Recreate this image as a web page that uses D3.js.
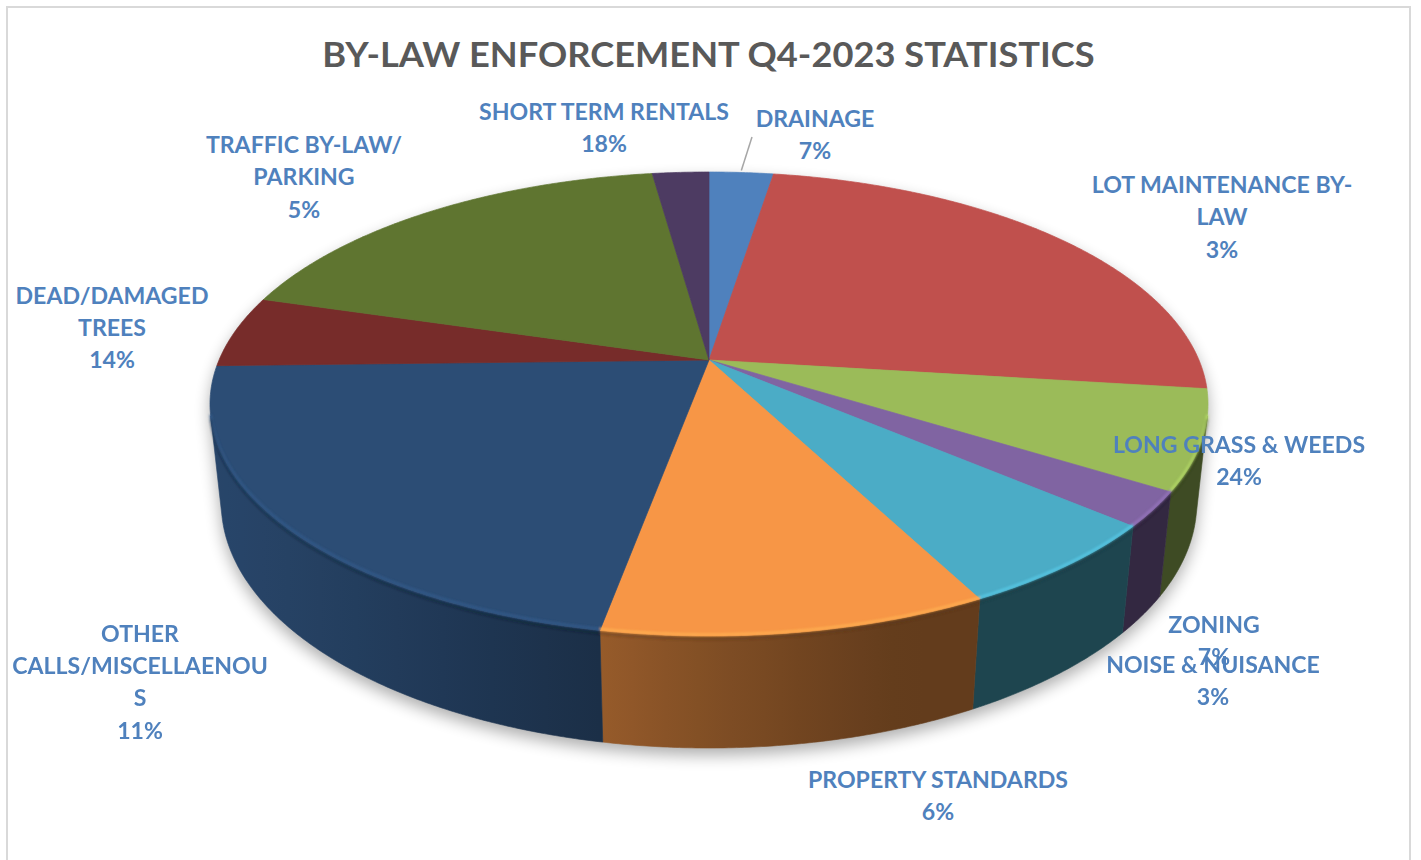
<!DOCTYPE html>
<html>
<head>
<meta charset="utf-8">
<script src="https://cdn.jsdelivr.net/npm/d3@7"></script>
<style>
  html, body { margin: 0; padding: 0; background: #ffffff; }
  svg { display: block; }
</style>
</head>
<body>
<script>
// ---- Data ----------------------------------------------------------------
const categories = [
  "DRAINAGE", "LOT MAINTENANCE BY-LAW", "LONG GRASS & WEEDS", "ZONING",
  "NOISE & NUISANCE", "PROPERTY STANDARDS", "OTHER CALLS/MISCELLAENOUS",
  "DEAD/DAMAGED TREES", "TRAFFIC BY-LAW/PARKING", "SHORT TERM RENTALS"
];
// how each category label wraps inside its data-label box
const labelLines = [
  ["DRAINAGE"],
  ["LOT MAINTENANCE BY-", "LAW"],
  ["LONG GRASS & WEEDS"],
  ["ZONING"],
  ["NOISE & NUISANCE"],
  ["PROPERTY STANDARDS"],
  ["OTHER", "CALLS/MISCELLAENOU", "S"],
  ["DEAD/DAMAGED", "TREES"],
  ["TRAFFIC BY-LAW/", "PARKING"],
  ["SHORT TERM RENTALS"]
];
// share of each slice (percent of the pie)
const shares = [2.5, 24.5, 6.9, 2.4, 6.1, 10.5, 21.7, 5.0, 18.2, 2.2];
// percentage text printed in each data label
const percentText = ["7%", "3%", "24%", "7%", "3%", "6%", "11%", "14%", "5%", "18%"];
const sliceColors = [
  "#4F81BD", "#C0504D", "#9BBB59", "#8064A2", "#4BACC6",
  "#F79646", "#2C4D75", "#772C2A", "#5F7530", "#4D3B62"
];
const chartTitle = "BY-LAW ENFORCEMENT Q4-2023 STATISTICS";

// ---- Layout --------------------------------------------------------------
const W = 1421, H = 860;
// data-label anchors: centre x and first baseline y
const labelAnchors = [
  [815, 126.5], [1222, 193], [1239, 452.5], [1214, 633], [1213, 673],
  [938, 788], [140, 641.5], [112, 303.5], [304, 153], [604, 120]
];
const lineStep = 32.5;
const labelColor = "#4F81BD";
const fontStack = "Lato, 'Open Sans', 'DejaVu Sans', sans-serif";

// perspective camera looking down at the pie
const view = { cx: 709, cy: 360, F: 2298, D: 1, sinP: 0.4565, cosP: 0.8897 };
const R = 0.2132;      // pie radius (world units)
const T = 0.0486;      // pie thickness (world units)

function project(theta, r, y) {
  const X = r * Math.sin(theta), Z = r * Math.cos(theta);
  const depth = view.D - y * view.sinP + Z * view.cosP;
  const up = y * view.cosP + Z * view.sinP;
  return [view.cx + view.F * X / depth, view.cy - view.F * up / depth];
}

// the side wall faces the camera only on this arc
const thetaMin = Math.acos(-R / (view.D * view.cosP));
const thetaMax = 2 * Math.PI - thetaMin;
const deg = Math.PI / 180;

function arcPoints(a0, a1, y) {
  const n = Math.max(2, Math.ceil(Math.abs(a1 - a0) / (0.4 * deg)));
  return d3.range(n + 1).map(i => project(a0 + (a1 - a0) * i / n, R, y));
}

// wall lighting: light comes from the front-left
function wallFactor(theta) {
  const c = Math.max(0, Math.cos(theta - 250 * deg));
  return 0.4 + 0.5 * Math.pow(c, 1.3);
}
function shade(color, f) {
  const c = d3.rgb(color);
  return d3.rgb(c.r * f, c.g * f, c.b * f).formatHex();
}

const svg = d3.select("body").append("svg").attr("width", W).attr("height", H);
const defs = svg.append("defs");

defs.append("filter").attr("id", "pieShadow")
  .attr("x", "-10%").attr("y", "-10%").attr("width", "120%").attr("height", "130%")
  .append("feGaussianBlur").attr("stdDeviation", 8);
defs.append("filter").attr("id", "softEdge")
  .attr("x", "-5%").attr("y", "-5%").attr("width", "110%").attr("height", "110%")
  .append("feGaussianBlur").attr("stdDeviation", 1.2);

// chart area frame
svg.append("rect")
  .attr("x", 7).attr("y", 7).attr("width", 1403).attr("height", 880)
  .attr("fill", "#ffffff").attr("stroke", "#D9D9D9").attr("stroke-width", 2);

const line = d3.line();
const arcs = d3.pie().sort(null).value(d => d)(shares);

// soft shadow under the whole pie
const silhouette = arcPoints(thetaMax - 2 * Math.PI, thetaMin, 0)
  .concat(arcPoints(thetaMin, thetaMax, -T));
svg.append("path")
  .attr("d", line(silhouette) + "Z")
  .attr("transform", "translate(0,7)")
  .attr("fill", "#000").attr("opacity", 0.32)
  .attr("filter", "url(#pieShadow)");

// side walls
const walls = svg.append("g");
arcs.forEach((a, i) => {
  const w0 = Math.max(a.startAngle, thetaMin), w1 = Math.min(a.endAngle, thetaMax);
  if (w1 <= w0) return;
  const x0 = project(w0, R, 0)[0], x1 = project(w1, R, 0)[0];
  const grad = defs.append("linearGradient").attr("id", "wall" + i)
    .attr("gradientUnits", "userSpaceOnUse")
    .attr("x1", x0).attr("y1", 0).attr("x2", x1).attr("y2", 0);
  d3.range(13).forEach(k => {
    const t = w0 + (w1 - w0) * k / 12;
    const xt = project(t, R, 0)[0];
    grad.append("stop")
      .attr("offset", Math.abs(x1 - x0) < 1e-6 ? 0 : (xt - x0) / (x1 - x0))
      .attr("stop-color", shade(sliceColors[i], wallFactor(t)));
  });
  const pts = arcPoints(w0, w1, 0).concat(arcPoints(w1, w0, -T));
  walls.append("path")
    .attr("d", line(pts) + "Z")
    .attr("fill", `url(#wall${i})`)
    .attr("stroke", `url(#wall${i})`).attr("stroke-width", 0.6);
});

// top faces
const tops = svg.append("g");
arcs.forEach((a, i) => {
  const pts = [project(0, 0, 0)].concat(arcPoints(a.startAngle, a.endAngle, 0));
  tops.append("path")
    .attr("d", line(pts) + "Z")
    .attr("fill", sliceColors[i])
    .attr("stroke", sliceColors[i]).attr("stroke-width", 0.7)
    .attr("stroke-linejoin", "round");
});

// bevel highlight along the front rim
const bevel = svg.append("g").attr("filter", "url(#softEdge)");
arcs.forEach((a, i) => {
  const v0 = Math.max(a.startAngle, thetaMin), v1 = Math.min(a.endAngle, thetaMax);
  if (v1 <= v0) return;
  const rim = arcPoints(v0, v1, 0).map(p => [p[0], p[1] - 1.5]);
  bevel.append("path")
    .attr("d", line(rim))
    .attr("fill", "none")
    .attr("stroke", d3.color(sliceColors[i]).brighter(0.45))
    .attr("stroke-width", 2.6).attr("opacity", 0.85);
  const under = arcPoints(v0, v1, 0).map(p => [p[0], p[1] + 3]);
  bevel.append("path")
    .attr("d", line(under))
    .attr("fill", "none")
    .attr("stroke", shade(sliceColors[i], 0.35))
    .attr("stroke-width", 2.5).attr("opacity", 0.35);
});

// leader line for the narrow first slice
const leaderEnd = project((arcs[0].startAngle + arcs[0].endAngle) / 2, R, 0);
svg.append("line")
  .attr("x1", 752).attr("y1", 137)
  .attr("x2", leaderEnd[0]).attr("y2", leaderEnd[1] - 2)
  .attr("stroke", "#A6A6A6").attr("stroke-width", 1.5);

// ---- Text ----------------------------------------------------------------
function fitScale(text, size, target) {
  const probe = svg.append("text")
    .attr("font-family", fontStack).attr("font-weight", 700)
    .attr("font-size", size).text(text);
  const w = probe.node().getComputedTextLength();
  probe.remove();
  return target / w;
}

const labelSize = 23.5;
const labelScale = fitScale("PROPERTY STANDARDS", labelSize, 260);

const labels = svg.append("g");
categories.forEach((name, i) => {
  const [lx, ly] = labelAnchors[i];
  const lines = labelLines[i].concat([percentText[i]]);
  const g = labels.append("g")
    .attr("transform", `translate(${lx},${ly}) scale(${labelScale},1)`);
  const t = g.append("text")
    .attr("text-anchor", "middle")
    .attr("font-family", fontStack).attr("font-weight", 700)
    .attr("font-size", labelSize).attr("fill", labelColor);
  lines.forEach((ln, k) => {
    t.append("tspan").attr("x", 0).attr("y", k * lineStep).text(ln);
  });
});

const titleSize = 34.5;
const titleScale = fitScale(chartTitle, titleSize, 773);
svg.append("g")
  .attr("transform", `translate(708.5,67) scale(${titleScale},1)`)
  .append("text")
  .attr("text-anchor", "middle")
  .attr("font-family", fontStack).attr("font-weight", 700)
  .attr("font-size", titleSize).attr("fill", "#595959")
  .text(chartTitle);
</script>
</body>
</html>
